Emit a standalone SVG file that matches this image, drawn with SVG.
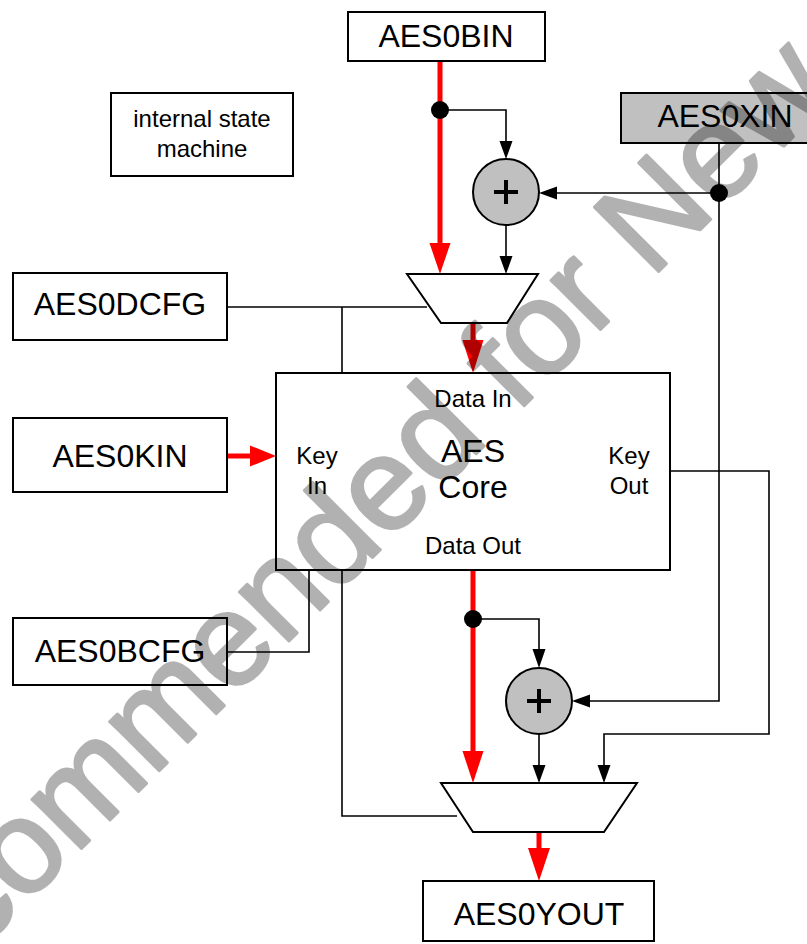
<svg xmlns="http://www.w3.org/2000/svg" width="807" height="944" viewBox="0 0 807 944">
<style>
.box{fill:#fff;stroke:#000;stroke-width:2}
.gbox{fill:#c0c0c0;stroke:#000;stroke-width:2}
.lbl{font-family:"Liberation Sans",Arial,sans-serif;font-size:32px;fill:#000;text-anchor:middle}
.sm{font-family:"Liberation Sans",Arial,sans-serif;font-size:24px;fill:#000;text-anchor:middle}
.wire{fill:none;stroke:#000;stroke-width:1.6}
.red{fill:none;stroke:#f00;stroke-width:5}
.ah{fill:#000}
.rah{fill:#f00}
.add{fill:#c0c0c0;stroke:#000;stroke-width:2}
.plus{stroke:#000;stroke-width:4}
.mux{fill:#fff;stroke:#000;stroke-width:2}
.wm{font-family:"Liberation Sans",Arial,sans-serif;font-size:132px;fill:#000;stroke:#000;stroke-width:3;stroke-linejoin:round}
</style>

<g id="connectors">
  <line class="red" x1="440" y1="61" x2="440" y2="245"/>
  <polygon class="rah" points="429.5,243 450.5,243 440,274"/>
  <circle cx="440" cy="110" r="9" fill="#000"/>
  <polyline class="wire" points="440,110 506,110 506,143"/>
  <polygon class="ah" points="499.5,141 512.5,141 506,159"/>
  <polyline class="wire" points="719,143 719,701 588,701"/>
  <polygon class="ah" points="590,694.5 590,707.5 572,701"/>
  <line class="wire" x1="719" y1="193" x2="555" y2="193"/>
  <polygon class="ah" points="557,186.5 557,199.5 539,193"/>
  <circle cx="719" cy="193" r="9" fill="#000"/>
  <line class="wire" x1="506" y1="225" x2="506" y2="258"/>
  <polygon class="ah" points="499.5,256 512.5,256 506,274"/>
  <line class="red" x1="473" y1="323" x2="473" y2="342"/>
  <polygon class="rah" points="462.5,340 483.5,340 473,373"/>
  <polyline class="wire" points="227,307 427,307"/>
  <line class="wire" x1="342" y1="307" x2="342" y2="373"/>
  <line class="red" x1="227" y1="456" x2="252" y2="456"/>
  <polygon class="rah" points="250,445.5 250,466.5 276,456"/>
  <polyline class="wire" points="227,652 309,652 309,570"/>
  <polyline class="wire" points="342,570 342,816 457,816"/>
  <polyline class="wire" points="670,471 769,471 769,734 604,734 604,767"/>
  <polygon class="ah" points="597.5,765 610.5,765 604,783"/>
  <line class="red" x1="473" y1="570" x2="473" y2="753"/>
  <polygon class="rah" points="462.5,751 483.5,751 473,783"/>
  <circle cx="473" cy="619" r="9" fill="#000"/>
  <polyline class="wire" points="473,619 539,619 539,651"/>
  <polygon class="ah" points="532.5,649 545.5,649 539,668"/>
  <line class="wire" x1="539" y1="734" x2="539" y2="767"/>
  <polygon class="ah" points="532.5,765 545.5,765 539,783"/>
  <line class="red" x1="539" y1="832" x2="539" y2="850"/>
  <polygon class="rah" points="528,848 550,848 539,881"/>
</g>

<g id="aes0bin">
  <rect class="box" x="348" y="12" width="197" height="49"/>
  <text class="lbl" x="446" y="47">AES0BIN</text>
</g>
<g id="ism">
  <rect class="box" x="111" y="93" width="182" height="83"/>
  <text class="sm" x="202" y="127">internal state</text>
  <text class="sm" x="202" y="157">machine</text>
</g>
<g id="aes0xin">
  <rect class="gbox" x="621" y="93" width="210" height="50"/>
  <text class="lbl" x="725" y="127">AES0XIN</text>
</g>
<g id="adder1">
  <circle class="add" cx="506" cy="192" r="33"/>
  <line class="plus" x1="494" y1="192" x2="518" y2="192"/>
  <line class="plus" x1="506" y1="180" x2="506" y2="204"/>
</g>
<g id="mux1">
  <polygon class="mux" points="407,274 538,274 507,323 441,323"/>
</g>
<g id="aes0dcfg">
  <rect class="box" x="13" y="273" width="214" height="67"/>
  <text class="lbl" x="120" y="315">AES0DCFG</text>
</g>
<g id="aes0kin">
  <rect class="box" x="13" y="418" width="214" height="74"/>
  <text class="lbl" x="120" y="467">AES0KIN</text>
</g>
<g id="core">
  <rect class="box" x="276" y="373" width="394" height="197"/>
  <text class="sm" x="473" y="407">Data In</text>
  <text class="lbl" x="473" y="462">AES</text>
  <text class="lbl" x="473" y="498">Core</text>
  <text class="sm" x="317" y="464">Key</text>
  <text class="sm" x="317" y="494">In</text>
  <text class="sm" x="629" y="464">Key</text>
  <text class="sm" x="629" y="494">Out</text>
  <text class="sm" x="473" y="554">Data Out</text>
</g>
<g id="aes0bcfg">
  <rect class="box" x="13" y="618" width="214" height="67"/>
  <text class="lbl" x="120" y="662">AES0BCFG</text>
</g>
<g id="adder2">
  <circle class="add" cx="539" cy="701" r="33"/>
  <line class="plus" x1="527" y1="701" x2="551" y2="701"/>
  <line class="plus" x1="539" y1="689" x2="539" y2="713"/>
</g>
<g id="mux2">
  <polygon class="mux" points="441,783 637,783 604,832 473,832"/>
</g>
<g id="aes0yout">
  <rect class="box" x="423" y="881" width="231" height="60"/>
  <text class="lbl" x="539" y="925">AES0YOUT</text>
</g>

<g id="watermark" opacity="0.3">
  <text class="wm" transform="translate(-314,1244) rotate(-45)">Not Recommended for New Design</text>
</g>
</svg>
